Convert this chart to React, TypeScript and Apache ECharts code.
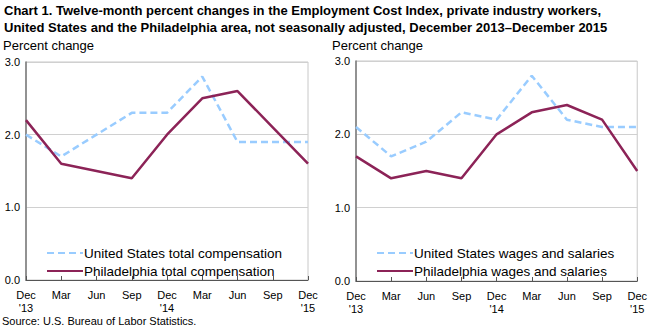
import React, { useEffect, useRef } from "react";
import * as echarts from "echarts";

const categories = ["Dec\n'13", "Mar", "Jun", "Sep", "Dec\n'14", "Mar", "Jun", "Sep", "Dec\n'15"];
const usTotalComp = [2.0, 1.7, 2.0, 2.3, 2.3, 2.8, 1.9, 1.9, 1.9];
const phillyTotalComp = [2.2, 1.6, 1.5, 1.4, 2.0, 2.5, 2.6, 2.1, 1.6];
const usWages = [2.1, 1.7, 1.9, 2.3, 2.2, 2.8, 2.2, 2.1, 2.1];
const phillyWages = [1.7, 1.4, 1.5, 1.4, 2.0, 2.3, 2.4, 2.2, 1.5];

const FONT = "'Liberation Sans', Arial, sans-serif";
const US_COLOR = "#99ccff";
const PHL_COLOR = "#8c2357";

export default function App() {
  const ref = useRef<HTMLDivElement>(null);
  useEffect(() => {
    if (!ref.current) return;
    const chart = echarts.init(ref.current, undefined, { renderer: "svg" });
    const xAxisBase = (gridIndex: number) => ({
      type: "category" as const,
      gridIndex,
      data: categories,
      boundaryGap: false,
      axisLine: { lineStyle: { color: "#555", width: 1 } },
      axisTick: { inside: true, length: 4, lineStyle: { color: "#555" } },
      axisLabel: { color: "#000", fontSize: 11, fontFamily: FONT, lineHeight: 13, margin: 8, interval: 0 },
      splitLine: { show: false },
    });
    const yAxisBase = (gridIndex: number) => ({
      type: "value" as const,
      gridIndex,
      min: 0,
      max: 3,
      interval: 1,
      axisLine: { show: true, lineStyle: { color: "#777", width: 1.5 } },
      axisTick: { show: false },
      axisLabel: {
        color: "#000",
        fontSize: 11,
        fontFamily: FONT,
        margin: 6,
        formatter: (v: number) => v.toFixed(1),
      },
      splitLine: { lineStyle: { color: "#d0d0d0", width: 1 } },
    });
    const usLine = (name: string, data: number[], idx: number) => ({
      name,
      type: "line" as const,
      xAxisIndex: idx,
      yAxisIndex: idx,
      data,
      symbol: "none",
      showSymbol: false,
      lineStyle: { color: US_COLOR, width: 2.5, type: [7, 4] as any },
      itemStyle: { color: US_COLOR },
    });
    const phlLine = (name: string, data: number[], idx: number) => ({
      name,
      type: "line" as const,
      xAxisIndex: idx,
      yAxisIndex: idx,
      data,
      symbol: "none",
      showSymbol: false,
      lineStyle: { color: PHL_COLOR, width: 2.5 },
      itemStyle: { color: PHL_COLOR },
    });
    const legendBase = {
      orient: "vertical" as const,
      itemWidth: 36,
      itemHeight: 10,
      itemGap: 4,
      itemStyle: { opacity: 0 },
      textStyle: { color: "#000", fontSize: 13.5, fontFamily: FONT, padding: [0, 0, 0, -4] },
      selectedMode: false,
    };
    chart.setOption({
      animation: false,
      backgroundColor: "#fff",
      grid: [
        { left: 26, right: 342, top: 62, bottom: 47, show: true, borderColor: "#c8c8c8", borderWidth: 1 },
        { left: 356, right: 10, top: 61, bottom: 46, show: true, borderColor: "#c8c8c8", borderWidth: 1 },
      ],
      xAxis: [xAxisBase(0), xAxisBase(1)],
      yAxis: [yAxisBase(0), yAxisBase(1)],
      legend: [
        {
          ...legendBase,
          left: 41,
          top: 241,
          data: ["United States total compensation", "Philadelphia total compensation"],
        },
        {
          ...legendBase,
          left: 371,
          top: 241,
          data: ["United States wages and salaries", "Philadelphia wages and salaries"],
        },
      ],
      graphic: [
        {
          type: "text",
          left: 4,
          top: 2,
          style: {
            text: "Chart 1. Twelve-month percent changes in the Employment Cost Index, private industry workers,\nUnited States and the Philadelphia area, not seasonally adjusted, December 2013–December 2015",
            font: `bold 13px ${FONT}`,
            lineHeight: 17,
            fill: "#000",
          },
        },
        {
          type: "text",
          left: 3,
          top: 39,
          style: { text: "Percent change", font: `13px ${FONT}`, fill: "#000" },
        },
        {
          type: "text",
          left: 332,
          top: 39,
          style: { text: "Percent change", font: `13px ${FONT}`, fill: "#000" },
        },
        {
          type: "text",
          left: 2,
          top: 315,
          style: { text: "Source: U.S. Bureau of Labor Statistics.", font: `11px ${FONT}`, fill: "#000" },
        },
      ],
      series: [
        usLine("United States total compensation", usTotalComp, 0),
        phlLine("Philadelphia total compensation", phillyTotalComp, 0),
        usLine("United States wages and salaries", usWages, 1),
        phlLine("Philadelphia wages and salaries", phillyWages, 1),
      ],
    });
    return () => chart.dispose();
  }, []);
  return <div ref={ref} style={{ width: 650, height: 327, position: "absolute", left: 0, top: 0 }} />;
}
